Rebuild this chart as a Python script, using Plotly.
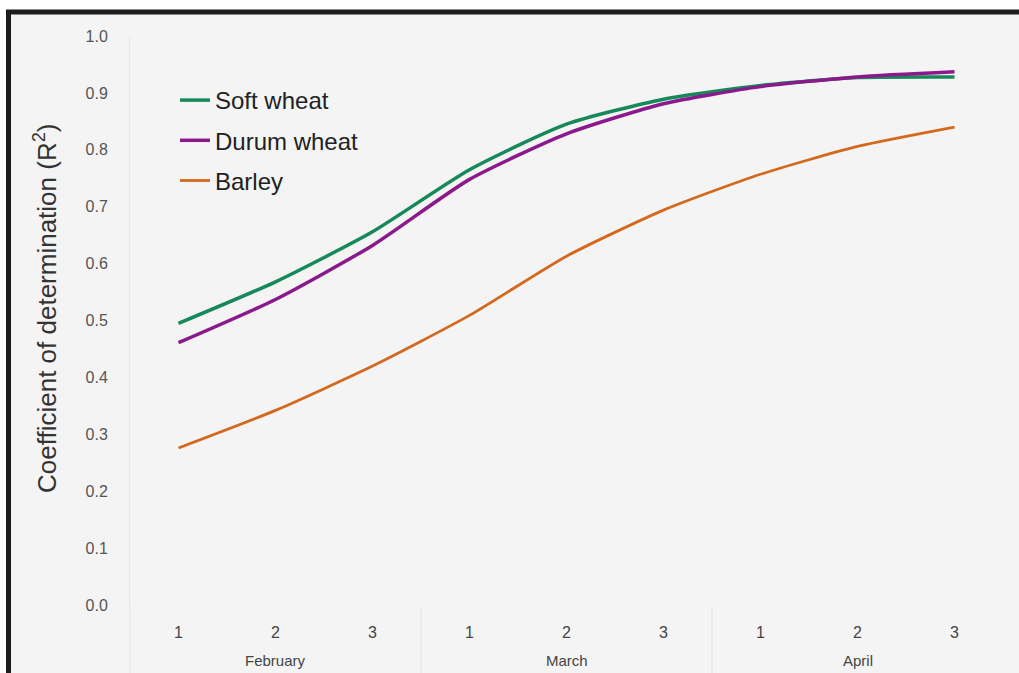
import plotly.graph_objects as go

months = ["February", "March", "April"]
decades = ["1", "2", "3"]
periods = [f"{m} {d}" for m in months for d in decades]

soft_wheat = [0.495, 0.568, 0.656, 0.765, 0.845, 0.889, 0.913, 0.927, 0.928]
durum_wheat = [0.461, 0.537, 0.632, 0.748, 0.828, 0.881, 0.911, 0.928, 0.937]
barley = [0.276, 0.342, 0.420, 0.509, 0.613, 0.694, 0.757, 0.806, 0.840]

y_ticks = [round(i / 10, 1) for i in range(11)]
y_title = "Coefficient of determination (R<sup>2</sup>)"

W, H = 1019, 673
ML, MR, MT, MB = 130, 16, 36, 68
PW, PH = W - ML - MR, H - MT - MB


def px_x(p):
    return (p - ML) / PW


def px_y(p):
    return (H - MB - p) / PH


x_idx = list(range(len(periods)))
x_ticktext = [d for m in months for d in decades]
n_sub = len(decades)

fig = go.Figure()
series = [
    ("Soft wheat", soft_wheat, "#17885a", 3.5),
    ("Durum wheat", durum_wheat, "#8a1a8c", 3.5),
    ("Barley", barley, "#d2691f", 2.8),
]
for name, vals, color, w in series:
    fig.add_trace(go.Scatter(
        x=x_idx, y=vals, name=name, mode="lines",
        legendgroup=name, customdata=periods,
        line=dict(color=color, width=w, shape="spline", smoothing=0.6),
    ))

annotations = []
for i, m in enumerate(months):
    annotations.append(dict(
        x=i * n_sub + (n_sub - 1) / 2, xref="x", y=px_y(660), yref="paper",
        text=m, showarrow=False, xanchor="center", yanchor="middle",
        font=dict(size=15, color="#444"),
    ))
annotations.append(dict(
    x=px_x(45), xref="paper", y=px_y(308), yref="paper",
    text=y_title, textangle=-90, showarrow=False,
    xanchor="center", yanchor="middle",
    font=dict(size=26, color="#333"),
))

shapes = [
    dict(type="rect", xref="paper", yref="paper", layer="below",
         x0=px_x(8.5), x1=px_x(W + 20), y0=px_y(H + 20), y1=px_y(12),
         fillcolor="#f4f4f4", line=dict(color="#1c1c1c", width=5)),
]
for k in range(1, len(months)):
    shapes.append(dict(
        type="line", xref="x", yref="paper", layer="below",
        x0=k * n_sub - 0.5, x1=k * n_sub - 0.5, y0=px_y(607), y1=px_y(H + 5),
        line=dict(color="#e2e2e2", width=1),
    ))
shapes.append(dict(
    type="line", xref="paper", yref="paper", layer="below",
    x0=0, x1=0, y0=px_y(605), y1=px_y(H + 5),
    line=dict(color="#e6e6e6", width=1),
))

fig.update_layout(
    width=W, height=H,
    margin=dict(l=ML, r=MR, t=MT, b=MB),
    paper_bgcolor="white",
    plot_bgcolor="rgba(0,0,0,0)",
    font=dict(family="Liberation Sans, Arial, sans-serif", color="#333"),
    showlegend=True,
    legend=dict(
        x=px_x(175), y=px_y(78), xanchor="left", yanchor="top",
        bgcolor="rgba(0,0,0,0)", borderwidth=0,
        font=dict(family="Liberation Sans, Arial, sans-serif", size=24, color="#222"),
        tracegroupgap=6, itemwidth=30,
    ),
    xaxis=dict(
        range=[-0.5, len(periods) - 0.5],
        tickvals=x_idx, ticktext=x_ticktext,
        showgrid=False, zeroline=False, showline=False,
        tickfont=dict(size=16, color="#444"),
        ticks="",
        ticklabelstandoff=16,
    ),
    yaxis=dict(
        range=[0, 1], tickvals=y_ticks, tickformat=".1f",
        showgrid=False, zeroline=False,
        showline=True, linecolor="#e6e6e6", linewidth=1,
        tickfont=dict(size=16, color="#555"),
        ticklabelstandoff=18,
    ),
    annotations=annotations,
    shapes=shapes,
)

fig.write_html("out.html", config={"displayModeBar": False},
               post_script="document.body.style.margin='0';")
